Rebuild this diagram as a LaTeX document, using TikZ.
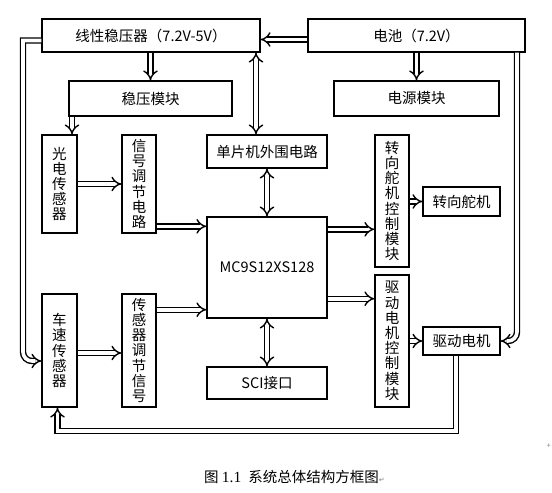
\documentclass[tikz,border=0pt]{standalone}
\usepackage{fontspec}
\newfontfamily\cjk{Noto Sans CJK SC}
\newfontfamily\serifl{Liberation Serif}
\newfontfamily\djv{DejaVu Sans}
\usetikzlibrary{arrows.meta}
\begin{document}
\begin{tikzpicture}[x=1pt,y=-1pt,
  box/.style={draw, line width=1.4pt, inner sep=0pt, align=center,
    font=\cjk\fontsize{14.5}{15.2}\selectfont},
  dbl/.style={double, double distance=3.6pt, line width=1.4pt, -{Implies[scale=1.3]}},
  dbltwo/.style={double, double distance=3.6pt, line width=1.4pt, {Implies[scale=1.3]}-{Implies[scale=1.3]}}]
\fill[white] (0,0) rectangle (552,493);
\useasboundingbox (0,0) rectangle (552,493);

% boxes
\node[box, minimum width=218pt, minimum height=33pt] (lin) at (151,35.5) {线性稳压器（7.2V-5V）};
\node[box, minimum width=217pt, minimum height=33pt] (bat) at (416.5,35.5) {电池（7.2V）};
\node[box, minimum width=163pt, minimum height=35pt] (wy) at (150.5,98.5) {稳压模块};
\node[box, minimum width=165pt, minimum height=35pt] (dy) at (416.5,98.5) {电源模块};
\node[box, minimum width=35pt, minimum height=98pt] (gd) at (59.5,184) {光\\电\\传\\感\\器};
\node[box, minimum width=34pt, minimum height=98pt] (xh) at (139,184) {信\\号\\调\\节\\电\\路};
\node[box, minimum width=120pt, minimum height=33pt] (pe) at (267,151.5) {单片机外围电路};
\node[box, minimum width=120pt, minimum height=101pt] (mcu) at (267,267.5) {MC9S12XS128};
\node[box, minimum width=34pt, minimum height=132pt] (zk) at (392,201) {转\\向\\舵\\机\\控\\制\\模\\块};
\node[box, minimum width=77pt, minimum height=29pt] (zd) at (461.5,201.5) {转向舵机};
\node[box, minimum width=34pt, minimum height=132pt] (qk) at (392,341) {驱\\动\\电\\机\\控\\制\\模\\块};
\node[box, minimum width=77pt, minimum height=28pt] (qd) at (461.5,341) {驱动电机};
\node[box, minimum width=35pt, minimum height=113pt] (cs) at (59.5,350.5) {车\\速\\传\\感\\器};
\node[box, minimum width=34pt, minimum height=113pt] (ct) at (139,350.5) {传\\感\\器\\调\\节\\信\\号};
\node[box, minimum width=120pt, minimum height=32pt] (sci) at (267,383) {SCI接口};

% caption
\node[anchor=west, inner sep=0pt, font=\cjk\fontsize{14.5}{16}\selectfont] (cap) at (204,477)
  {图 {\serifl\fontsize{15.5}{16}\selectfont 1.1}\hspace{7pt}系统总体结构方框图{\djv\fontsize{7}{8}\selectfont\color{gray}↵}};
\node[inner sep=0pt, font=\djv\fontsize{6}{7}\selectfont, text=gray] (plus) at (549,446) {+};

% connectors
\draw[dbl] ([yshift=-4pt]bat.west) -- ([yshift=-4pt]lin.east);
\draw[dbl] (lin.south -| wy.north) -- (wy.north);
\draw[dbl] (bat.south -| dy.north) -- (dy.north);
\coordinate (gdin) at ([xshift=12.5pt]gd.north);
\draw[dbl] (wy.south -| gdin) -- (gdin);
\coordinate (pein) at ([xshift=-11pt]pe.north);
\draw[dbltwo] (lin.south -| pein) -- (pein);
\draw[dbltwo] (pe.south) -- (mcu.north);
\draw[dbltwo] (mcu.south) -- (sci.north);
\draw[dbl] (gd.east) -- (xh.west);
\coordinate (m1) at ([yshift=-10pt]mcu.north west);
\draw[dbl] (xh.east |- m1) -- (m1);
\coordinate (m2) at ([yshift=-13pt]mcu.north east);
\draw[dbl] (m2) -- (zk.west |- m2);
\coordinate (m3) at ([yshift=20pt]mcu.south east);
\draw[dbl] (m3) -- (qk.west |- m3);
\coordinate (m4) at ([yshift=9pt]mcu.south west);
\draw[dbl] (ct.east |- m4) -- (m4);
\draw[dbl] ([yshift=-2.5pt]cs.east) -- ([yshift=-2.5pt]ct.west);
\draw[dbl] (zk.east |- zd.west) -- (zd.west);
\draw[dbl] (qk.east |- qd.west) -- (qd.west);

% feedback lines
\coordinate (lf0) at ([yshift=-5pt]lin.west);
\coordinate (lf1) at (23,40.5);
\coordinate (lfin) at ([yshift=-10.5pt]cs.west);
\draw[dbl] (lf0) -- (lf1) [rounded corners=9pt] |- (lfin);
\coordinate (rf0) at ([xshift=100.5pt]bat.south);
\draw[dbl, rounded corners=9pt] (rf0) |- (qd.east);
\coordinate (bf0) at ([xshift=-5.5pt]qd.south);
\coordinate (bf1) at (456,431);
\coordinate (bfin) at ([xshift=-2pt]cs.south);
\draw[dbl] (bf0) -- (bf1) -| (bfin);
\end{tikzpicture}
\end{document}
